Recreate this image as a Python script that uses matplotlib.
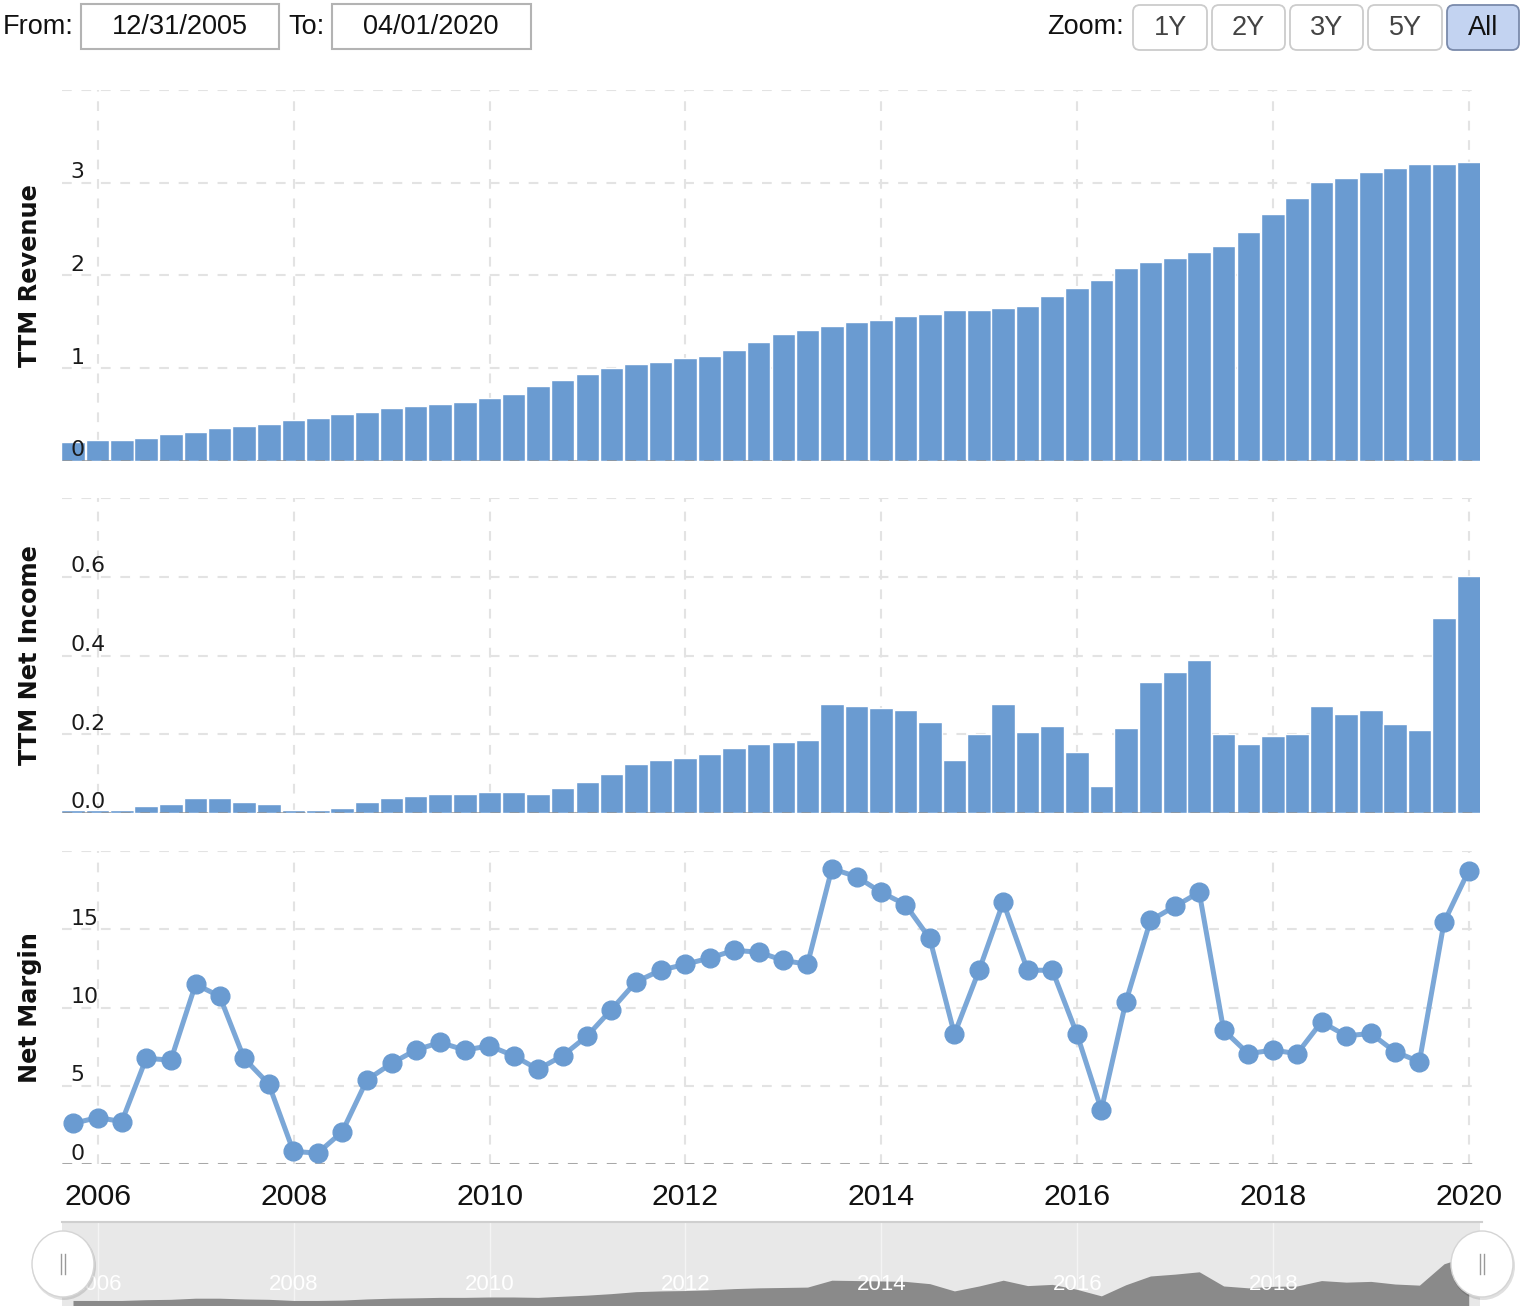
# TTM revenue / net income / net margin, three stacked panels + navigator

import numpy as np
import pandas as pd
import matplotlib
matplotlib.use("Agg")
import matplotlib.pyplot as plt
import matplotlib.dates as mdates
from matplotlib.patches import Rectangle, FancyBboxPatch, Ellipse

plt.rcParams['lines.scale_dashes'] = False

# quarter ends, 2005-09-30 .. 2019-12-31
dates = pd.date_range('2005-09-30', '2019-12-31', freq='QE')

revenue = [0.205, 0.227, 0.227, 0.248, 0.291, 0.313, 0.356, 0.378, 0.400, 0.442,
           0.464, 0.507, 0.529, 0.572, 0.593, 0.615, 0.637, 0.680, 0.723, 0.809,
           0.874, 0.939, 1.004, 1.047, 1.068, 1.111, 1.133, 1.198, 1.284, 1.370,
           1.414, 1.457, 1.500, 1.521, 1.565, 1.586, 1.629, 1.629, 1.651, 1.673,
           1.781, 1.867, 1.953, 2.083, 2.147, 2.190, 2.255, 2.320, 2.471, 2.665,
           2.838, 3.011, 3.054, 3.119, 3.162, 3.205, 3.205, 3.227]

net_income = [0.007, 0.007, 0.007, 0.017, 0.022, 0.037, 0.037, 0.027, 0.022, 0.007,
              0.007, 0.012, 0.027, 0.037, 0.042, 0.048, 0.048, 0.053, 0.053, 0.048,
              0.063, 0.078, 0.098, 0.124, 0.134, 0.139, 0.149, 0.165, 0.175, 0.180,
              0.185, 0.277, 0.272, 0.267, 0.261, 0.231, 0.134, 0.200, 0.277, 0.205,
              0.221, 0.155, 0.068, 0.216, 0.333, 0.358, 0.389, 0.200, 0.175, 0.195,
              0.200, 0.272, 0.251, 0.261, 0.226, 0.211, 0.496, 0.603]

net_margin = [2.59, 2.97, 2.71, 6.75, 6.64, 11.48, 10.72, 6.75, 5.11, 0.80,
              0.70, 2.06, 5.37, 6.43, 7.28, 7.77, 7.28, 7.55, 6.92, 6.05,
              6.92, 8.19, 9.87, 11.63, 12.38, 12.76, 13.16, 13.65, 13.54, 13.01,
              12.76, 18.87, 18.36, 17.36, 16.58, 14.41, 8.30, 12.38, 16.73, 12.38,
              12.38, 8.30, 3.46, 10.34, 15.56, 16.47, 17.36, 8.55, 7.05, 7.28,
              7.05, 9.08, 8.19, 8.34, 7.17, 6.54, 15.45, 18.75]

year_ticks = ['2006', '2008', '2010', '2012', '2014', '2016', '2018', '2020']

rev_ticks = [0, 1, 2, 3]
ni_ticks = [0.0, 0.2, 0.4, 0.6]
nm_ticks = [0, 5, 10, 15]

W, H = 1522, 1306
BAR = '#6a9bd1'
LINE = '#7ba7d7'
GRID = '#e3e3e3'

fig = plt.figure(figsize=(W / 100, H / 100), dpi=100)


def box(l, t, r, b):
    return [l / W, 1 - b / H, (r - l) / W, (b - t) / H]


xmin = mdates.date2num(pd.Timestamp('2005-08-20'))
xmax = mdates.date2num(pd.Timestamp('2020-02-11'))
xd = mdates.date2num(dates)
year_pos = [mdates.date2num(pd.Timestamp(y + '-01-01')) for y in year_ticks]


def setup(ax, top, ticks, labels):
    ax.set_xlim(xmin, xmax)
    ax.set_ylim(0, top)
    for s in ax.spines.values():
        s.set_visible(False)
    ax.set_xticks(year_pos)
    ax.set_yticks(list(ticks) + [top])
    ax.grid(True, color=GRID, lw=1.5, ls=(0, (7, 7)))
    ax.set_axisbelow(True)
    ax.tick_params(length=0, labelleft=False, labelbottom=False)
    for v, lab in zip(ticks, labels):
        ax.annotate(lab, xy=(0, v), xycoords=('axes fraction', 'data'),
                    xytext=(8.5 * 0.72, 4.5 * 0.72), textcoords='offset points',
                    ha='left', va='baseline', fontsize=15.8, color='#1a1a1a',
                    family='DejaVu Sans', zorder=6)
    ax.axhline(0, color='#8c8c8c', lw=2, ls=(0, (7, 7)), alpha=0.75, zorder=4)


# revenue
ax1 = fig.add_axes(box(62, 90, 1480, 461))
setup(ax1, 4, rev_ticks, ['0', '1', '2', '3'])
ax1.bar(xd, revenue, width=88, color=BAR, edgecolor='white', linewidth=1, zorder=3)

# net income
ax2 = fig.add_axes(box(62, 498, 1480, 813))
setup(ax2, 0.8, ni_ticks, ['0.0', '0.2', '0.4', '0.6'])
ax2.bar(xd, net_income, width=88, color=BAR, edgecolor='white', linewidth=1, zorder=3)

# net margin
ax3 = fig.add_axes(box(62, 851, 1480, 1164))
setup(ax3, 20, nm_ticks, ['0', '5', '10', '15'])
ax3.plot(xd, net_margin, color=LINE, lw=3.6, zorder=5, clip_on=False)
ax3.plot(xd, net_margin, ls='none', marker='o', ms=13.5, mfc=BAR, mec=BAR,
         zorder=5, clip_on=False)
ax3.tick_params(labelbottom=True, pad=14)
ax3.set_xticklabels(year_ticks, fontsize=21.8, family='Liberation Sans', color='#111111')

for ax, title, cy in [(ax1, 'TTM Revenue', 275.5), (ax2, 'TTM Net Income', 655.5),
                      (ax3, 'Net Margin', 1007.5)]:
    fig.text(30 / W, 1 - cy / H, title, rotation=90, ha='center', va='center',
             fontsize=17.3, fontweight='bold', family='DejaVu Sans', color='#111111')

# navigator
nav = fig.add_axes(box(62, 1222, 1480, 1306))
nav.set_xlim(xmin, xmax)
nav.set_ylim(-0.067, 1.053)
nav.set_facecolor('#e8e8e8')
for s in nav.spines.values():
    s.set_visible(False)
nav.set_xticks([])
nav.set_yticks([])
for xp in year_pos[:-1]:
    nav.axvline(xp, color='#f4f4f4', lw=1, zorder=1)
nav.fill_between(xd, net_income, -1, color='#8a8a8a', lw=0, zorder=2)
for xp, lab in zip(year_pos[:-1], year_ticks[:-1]):
    nav.text(xp, 0.25, lab, transform=nav.get_xaxis_transform(), ha='center',
             va='center', fontsize=16, color='white', family='Liberation Sans', zorder=3)

# overlay in pixel coordinates for header and handles
ov = fig.add_axes([0, 0, 1, 1], zorder=10)
ov.set_xlim(0, W)
ov.set_ylim(H, 0)
ov.axis('off')
ov.patch.set_alpha(0)

hf = dict(fontsize=19.5, family='Liberation Sans', va='center', color='#111111')
ov.text(3, 27, 'From:', ha='left', **hf)
ov.add_patch(Rectangle((81, 4), 198, 45, fc='white', ec='#b3b3b3', lw=1.5))
ov.text(180, 27, '12/31/2005', ha='center', **hf)
ov.text(288, 27, 'To:', ha='left', **hf)
ov.add_patch(Rectangle((332, 4), 199, 45, fc='white', ec='#b3b3b3', lw=1.5))
ov.text(431, 27, '04/01/2020', ha='center', **hf)
ov.text(1124, 27, 'Zoom:', ha='right', **hf)

buttons = [('1Y', 1133, 1207), ('2Y', 1212, 1285), ('3Y', 1290, 1363),
           ('5Y', 1368, 1442), ('All', 1447, 1519)]
for lab, l, r in buttons:
    sel = lab == 'All'
    ov.add_patch(FancyBboxPatch((l, 5), r - l, 45,
                                boxstyle='round,pad=0,rounding_size=7',
                                fc='#c3d3f1' if sel else 'white',
                                ec='#7a8aab' if sel else '#cccccc', lw=1.3))
    ov.text((l + r) / 2, 28, lab, ha='center', fontsize=19.5, family='Liberation Sans',
            va='center', color='#111111' if sel else '#444444')

ov.plot([62, 1482], [1222, 1222], color='#cfcfcf', lw=1.5)

for cx in [63, 1482]:
    ov.add_patch(Ellipse((cx + 1, 1266), 64, 68, fc='#000000', alpha=0.12, ec='none'))
    ov.add_patch(Ellipse((cx, 1264), 62, 66, fc='white', ec='#d5d5d5', lw=1))
    ov.plot([cx - 2, cx - 2], [1254, 1274], color='#9a9a9a', lw=1)
    ov.plot([cx + 2, cx + 2], [1254, 1274], color='#9a9a9a', lw=1)

fig.savefig('out.png', dpi=100)
